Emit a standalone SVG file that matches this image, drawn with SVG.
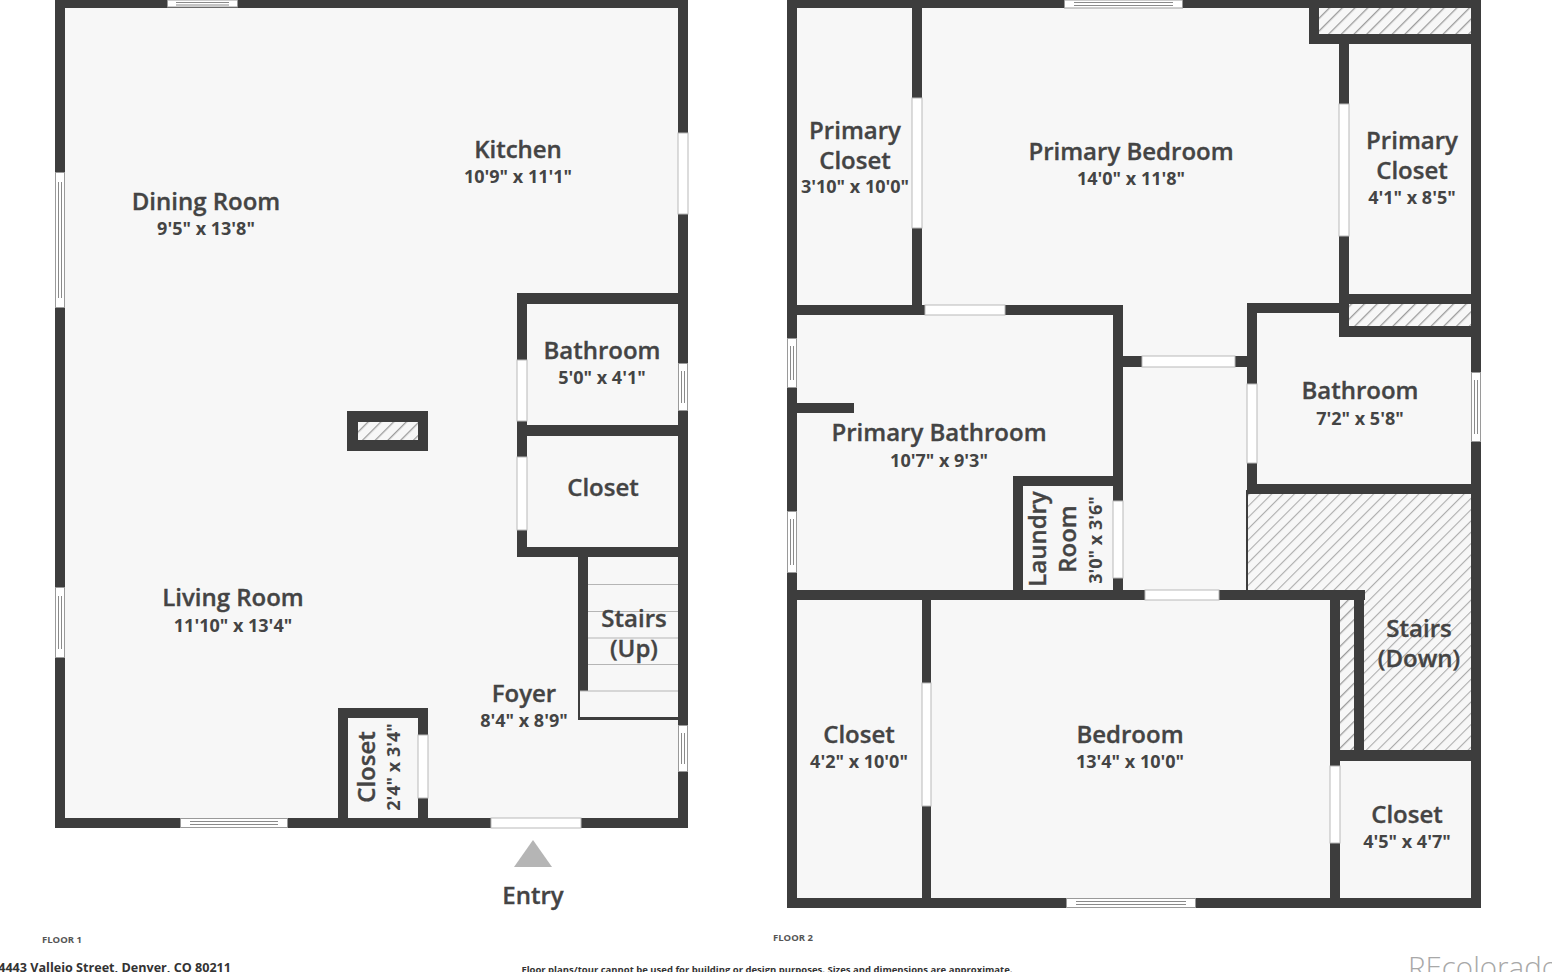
<svg xmlns="http://www.w3.org/2000/svg" width="1552" height="972" viewBox="0 0 1552 972">
<style>
.floor{fill:#f7f7f7}
.w{fill:#3d3d3d}
.h{fill:url(#hatch)}
.hf{fill:url(#hatchFine)}
.d{fill:#fff;stroke:#b9b9b9;stroke-width:1}
.wi{fill:#fff;stroke:#9a9a9a;stroke-width:1}
.wl{fill:none;stroke:#8a8a8a;stroke-width:1}
.s{stroke:#b5b5b5;stroke-width:1.2;fill:none}
text{font-family:"Open Sans","Liberation Sans",sans-serif;fill:#444;text-anchor:middle}
.n{font-size:24px;font-weight:600;stroke:#444;stroke-width:.35}
.m{font-size:18px;font-weight:700}
.f{font-size:9.500px;font-weight:700;fill:#555;text-anchor:start}
.t{font-size:12.600px;font-weight:700;fill:#333}
</style>
<defs>
<pattern id="hatch" width="9" height="9" patternUnits="userSpaceOnUse" patternTransform="rotate(45)">
<rect width="9" height="9" fill="#f7f7f7"/>
<rect x="0" y="0" width="1.300" height="9" fill="#9c9c9c"/>
</pattern>
<pattern id="hatchFine" width="8" height="8" patternUnits="userSpaceOnUse" patternTransform="rotate(45)">
<rect width="8" height="8" fill="#f7f7f7"/>
<rect x="0" y="0" width="1.100" height="8" fill="#adadad"/>
</pattern>
</defs>
<rect width="1552" height="972" fill="#fff"/>

<g id="floor-1">
<rect class="floor" x="55" y="0" width="633" height="828"/>
<g id="walls-1" class="w">
<rect x="55" y="0" width="633" height="8"/>
<rect x="55" y="0" width="10" height="828"/>
<rect x="678" y="0" width="10" height="828"/>
<rect x="55" y="818" width="633" height="10"/>
<rect x="517" y="293" width="171" height="11"/>
<rect x="517" y="293" width="10" height="264"/>
<rect x="517" y="425" width="171" height="11"/>
<rect x="517" y="547" width="171" height="10"/>
<rect x="578" y="557" width="10" height="134"/>
<rect x="578" y="717" width="100" height="3"/>
<rect x="578" y="691" width="2" height="29"/>
<rect x="338" y="708" width="90" height="10"/>
<rect x="338" y="708" width="10" height="120"/>
<rect x="418" y="708" width="10" height="120"/>
<rect x="347" y="411" width="81" height="40"/>
</g>
<rect class="h" x="358" y="422" width="60" height="18"/>
<g id="stairs-lines-1" class="s">
<path d="M588 584.500H678M588 611.500H678M588 638H678M588 664.500H678M580 691H678"/>
</g>
<g id="openings-1">
<rect class="d" x="678" y="133" width="10" height="81"/>
<rect class="d" x="517" y="360" width="10" height="61"/>
<rect class="d" x="517" y="457" width="10" height="73"/>
<rect class="d" x="418" y="735" width="10" height="63"/>
<rect class="d" x="491" y="818" width="90" height="10"/>
<rect class="wi" x="167.500" y="0" width="70" height="7"/><path class="wl" d="M176 2.500H229M176 5H229"/>
<rect class="wi" x="180.500" y="818.500" width="107" height="9"/><path class="wl" d="M190 821.500H278M190 824.500H278"/>
<rect class="wi" x="55.500" y="172.500" width="9" height="135"/><path class="wl" d="M58.500 182V298M61.500 182V298"/>
<rect class="wi" x="55.500" y="587.500" width="9" height="70"/><path class="wl" d="M58.500 596V649M61.500 596V649"/>
<rect class="wi" x="678.500" y="363.500" width="9" height="47"/><path class="wl" d="M681.500 371V403M684.500 371V403"/>
<rect class="wi" x="678.500" y="725.500" width="9" height="46"/><path class="wl" d="M681.500 733V764M684.500 733V764"/>
</g>
<polygon id="entry-arrow" points="533,840 552,867 514,867" fill="#b5b5b5"/>
</g>

<g id="floor-2">
<rect class="floor" x="787" y="0" width="694" height="908"/>
<rect class="hf" x="1248" y="494" width="223" height="96"/>
<rect class="hf" x="1364" y="590" width="107" height="160"/>
<rect class="h" x="1340" y="600" width="14" height="150"/>
<rect class="h" x="1319" y="8" width="152" height="26"/>
<rect class="h" x="1349" y="304" width="122" height="22"/>
<g id="walls-2" class="w">
<rect x="787" y="0" width="694" height="8"/>
<rect x="787" y="0" width="10" height="908"/>
<rect x="1471" y="0" width="10" height="908"/>
<rect x="787" y="898" width="694" height="10"/>
<rect x="912" y="8" width="10" height="298"/>
<rect x="1309" y="8" width="10" height="36"/>
<rect x="1309" y="34" width="162" height="10"/>
<rect x="1339" y="44" width="10" height="293"/>
<rect x="1349" y="294" width="122" height="10"/>
<rect x="1339" y="326" width="132" height="11"/>
<rect x="1247" y="303" width="92" height="10"/>
<rect x="1247" y="303" width="10" height="187"/>
<rect x="1247" y="484" width="224" height="10"/>
<rect x="1246" y="490" width="2" height="100"/>
<rect x="1123" y="356" width="124" height="11"/>
<rect x="797" y="305" width="326" height="10"/>
<rect x="1113" y="305" width="10" height="290"/>
<rect x="797" y="403" width="57" height="10"/>
<rect x="1013" y="476" width="10" height="120"/>
<rect x="1013" y="476" width="105" height="10"/>
<rect x="787" y="590" width="578" height="10"/>
<rect x="922" y="600" width="9" height="298"/>
<rect x="1330" y="600" width="10" height="298"/>
<rect x="1354" y="590" width="10" height="170"/>
<rect x="1340" y="750" width="131" height="11"/>
</g>
<g id="openings-2">
<rect class="d" x="912" y="98" width="10" height="130"/>
<rect class="d" x="1339" y="104" width="10" height="132"/>
<rect class="d" x="1247" y="384" width="10" height="79"/>
<rect class="d" x="1113" y="501" width="10" height="77"/>
<rect class="d" x="925" y="305" width="80" height="10"/>
<rect class="d" x="1142" y="356" width="93" height="11"/>
<rect class="d" x="1145" y="590" width="74" height="10"/>
<rect class="d" x="1330" y="766" width="10" height="77"/>
<rect class="d" x="922" y="683" width="9" height="123"/>
<rect class="wi" x="1064.500" y="0" width="118" height="8"/><path class="wl" d="M1074 2.500H1173M1074 5.500H1173"/>
<rect class="wi" x="1066.500" y="898.500" width="129" height="9"/><path class="wl" d="M1076 901.500H1186M1076 904.500H1186"/>
<rect class="wi" x="787.500" y="338.500" width="9" height="49"/><path class="wl" d="M790.500 346V380M793.500 346V380"/>
<rect class="wi" x="787.500" y="511.500" width="9" height="61"/><path class="wl" d="M790.500 519V565M793.500 519V565"/>
<rect class="wi" x="1471.500" y="372.500" width="9" height="69"/><path class="wl" d="M1474.500 380V434M1477.500 380V434"/>
</g>
</g>

<g id="labels-1">
<g id="dining-room"><text class="n" x="206" y="210">Dining Room</text><text class="m" x="206" y="235">9'5" x 13'8"</text></g>
<g id="kitchen"><text class="n" x="518" y="158">Kitchen</text><text class="m" x="518" y="183">10'9" x 11'1"</text></g>
<g id="bathroom-1"><text class="n" x="602" y="359">Bathroom</text><text class="m" x="602" y="384">5'0" x 4'1"</text></g>
<g id="closet-1"><text class="n" x="603" y="496">Closet</text></g>
<g id="stairs-up"><text class="n" x="634" y="627">Stairs</text><text class="n" x="634" y="657">(Up)</text></g>
<g id="living-room"><text class="n" x="233" y="606">Living Room</text><text class="m" x="233" y="632">11'10" x 13'4"</text></g>
<g id="foyer"><text class="n" x="524" y="702">Foyer</text><text class="m" x="524" y="727">8'4" x 8'9"</text></g>
<g id="closet-small"><text class="n" transform="translate(375 767) rotate(-90)">Closet</text><text class="m" transform="translate(400 767) rotate(-90)">2'4" x 3'4"</text></g>
<g id="entry"><text class="n" x="533" y="904">Entry</text></g>
</g>
<g id="labels-2">
<g id="primary-closet-a"><text class="n" x="855" y="139">Primary</text><text class="n" x="855" y="169">Closet</text><text class="m" x="855" y="193">3'10" x 10'0"</text></g>
<g id="primary-bedroom"><text class="n" x="1131" y="160">Primary Bedroom</text><text class="m" x="1131" y="185">14'0" x 11'8"</text></g>
<g id="primary-closet-b"><text class="n" x="1412" y="149">Primary</text><text class="n" x="1412" y="179">Closet</text><text class="m" x="1412" y="204">4'1" x 8'5"</text></g>
<g id="primary-bathroom"><text class="n" x="939" y="441">Primary Bathroom</text><text class="m" x="939" y="467">10'7" x 9'3"</text></g>
<g id="bathroom-2"><text class="n" x="1360" y="399">Bathroom</text><text class="m" x="1360" y="425">7'2" x 5'8"</text></g>
<g id="laundry"><text class="n" transform="translate(1046 539) rotate(-90)">Laundry</text><text class="n" transform="translate(1076 539) rotate(-90)">Room</text><text class="m" transform="translate(1102 540) rotate(-90)">3'0" x 3'6"</text></g>
<g id="stairs-down"><text class="n" x="1419" y="637">Stairs</text><text class="n" x="1419" y="667">(Down)</text></g>
<g id="closet-2"><text class="n" x="859" y="743">Closet</text><text class="m" x="859" y="768">4'2" x 10'0"</text></g>
<g id="bedroom"><text class="n" x="1130" y="743">Bedroom</text><text class="m" x="1130" y="768">13'4" x 10'0"</text></g>
<g id="closet-3"><text class="n" x="1407" y="823">Closet</text><text class="m" x="1407" y="848">4'5" x 4'7"</text></g>
</g>
<g id="footer">
<text class="f" x="42" y="943">FLOOR 1</text>
<text class="f" x="773" y="941">FLOOR 2</text>
<text class="t" x="231" y="972" style="text-anchor:end">4443 Vallejo Street, Denver, CO 80211</text>
<text x="767" y="973" style="font-size:9.500px;font-weight:700;fill:#333">Floor plans/tour cannot be used for building or design purposes. Sizes and dimensions are approximate.</text>
<text x="1408" y="978" style="text-anchor:start;font-size:29.500px;font-weight:300;fill:#a8a8a8">REcolorado</text>
</g>
</svg>
